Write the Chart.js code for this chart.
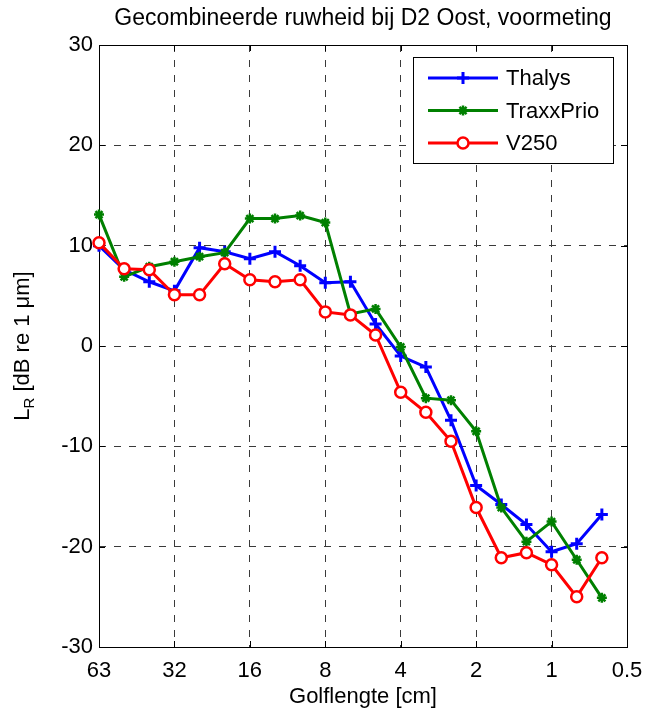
<!DOCTYPE html>
<html>
<head>
<meta charset="utf-8">
<script src="https://cdn.jsdelivr.net/npm/chart.js@4/dist/chart.umd.min.js"></script>
<style>
  html, body { margin: 0; padding: 0; background: #fff; }
</style>
</head>
<body>
<canvas id="roughChart" width="645" height="713"></canvas>
<script>
// third-octave wavelength bands [cm], last one only carries the 0.5 tick
const bands = ['63', '50', '40', '31.5', '25', '20', '16', '12.5', '10', '8', '6.3', '5',
               '4', '3.15', '2.5', '2', '1.6', '1.25', '1', '0.8', '0.63', '0.5'];
const tickLabels = ['63', '32', '16', '8', '4', '2', '1', '0.5'];

// roughness level L_R [dB re 1 um]
const thalys = [10.0, 7.6, 6.4, 5.5, 9.8, 9.4, 8.7, 9.4, 8.0, 6.3, 6.4, 2.2,
                -1.0, -2.1, -7.4, -13.9, -15.8, -17.8, -20.5, -19.7, -16.8];
const traxxPrio = [13.1, 6.9, 7.9, 8.4, 8.9, 9.3, 12.7, 12.7, 13.0, 12.3, 3.2, 3.7,
                   -0.1, -5.2, -5.4, -8.5, -16.1, -19.5, -17.5, -21.3, -25.1];
const v250 = [10.3, 7.7, 7.6, 5.1, 5.1, 8.2, 6.6, 6.4, 6.6, 3.4, 3.1, 1.1,
              -4.6, -6.6, -9.5, -16.1, -21.1, -20.6, -21.8, -25.0, -21.1];

const FONT = "'Liberation Sans', Arial, Helvetica, sans-serif";
const GRID = '#3a3a3a';
Chart.defaults.font.family = FONT;
Chart.defaults.font.size = 22;
Chart.defaults.color = '#000';

// box round the axes plus small inward ticks, matlab style
const frame = {
  id: 'frame',
  beforeDatasetsDraw(chart) {
    const { ctx, chartArea: a, scales } = chart;
    ctx.save();
    ctx.strokeStyle = '#000';
    ctx.lineWidth = 1;
    ctx.beginPath();
    scales.x.ticks.forEach((t, i) => {
      if (i % 3 !== 0) return;
      const x = Math.round(scales.x.getPixelForTick(i)) + 0.5;
      ctx.moveTo(x, a.bottom); ctx.lineTo(x, a.bottom - 6);
      ctx.moveTo(x, a.top); ctx.lineTo(x, a.top + 6);
    });
    scales.y.ticks.forEach((t, i) => {
      const y = Math.round(scales.y.getPixelForTick(i)) + 0.5;
      ctx.moveTo(a.left, y); ctx.lineTo(a.left + 6, y);
      ctx.moveTo(a.right, y); ctx.lineTo(a.right - 6, y);
    });
    ctx.stroke();
    ctx.strokeRect(Math.round(a.left) + 0.5, Math.round(a.top) + 0.5,
                   Math.round(a.right - a.left), Math.round(a.bottom - a.top));
    ctx.restore();
  }
};

// y title with subscript R
const yTitle = {
  id: 'yTitle',
  afterDraw(chart) {
    const { ctx, chartArea: a } = chart;
    const main = '22px ' + FONT, sub = '15px ' + FONT;
    ctx.save();
    ctx.translate(22, (a.top + a.bottom) / 2);
    ctx.rotate(-Math.PI / 2);
    ctx.fillStyle = '#000';
    ctx.textBaseline = 'alphabetic';
    ctx.font = main;
    const wL = ctx.measureText('L').width;
    const rest = ' [dB re 1 \u03BCm]';
    const wRest = ctx.measureText(rest).width;
    ctx.font = sub;
    const wR = ctx.measureText('R').width;
    let x = -(wL + wR + wRest) / 2;
    const base = 7;
    ctx.font = main;
    ctx.fillText('L', x, base);
    x += wL;
    ctx.font = sub;
    ctx.fillText('R', x, base + 5);
    x += wR;
    ctx.font = main;
    ctx.fillText(rest, x, base);
    ctx.restore();
  }
};

// legend box in upper right corner with line + marker samples
const boxLegend = {
  id: 'boxLegend',
  afterDraw(chart) {
    const { ctx, chartArea: a } = chart;
    const left = a.right - 214, top = a.top + 12, w = 200, h = 106;
    ctx.save();
    ctx.fillStyle = '#fff';
    ctx.fillRect(left, top, w, h);
    ctx.strokeStyle = '#000';
    ctx.lineWidth = 1;
    ctx.strokeRect(Math.round(left) + 0.5, Math.round(top) + 0.5, w, h);
    chart.data.datasets.forEach((ds, i) => {
      const y = top + 21 + i * 32.5;
      ctx.strokeStyle = ds.borderColor;
      ctx.lineWidth = ds.borderWidth;
      ctx.beginPath();
      ctx.moveTo(left + 15, y);
      ctx.lineTo(left + 85, y);
      ctx.stroke();
      ctx.fillStyle = ds.pointBackgroundColor;
      ctx.lineWidth = ds.pointBorderWidth;
      Chart.helpers.drawPoint(ctx, { pointStyle: ds.pointStyle, radius: ds.pointRadius,
        borderWidth: ds.pointBorderWidth, rotation: 0 }, left + 50, y);
      ctx.fillStyle = '#000';
      ctx.font = '22px ' + FONT;
      ctx.textBaseline = 'middle';
      ctx.fillText(ds.label, left + 93, y + 1);
    });
    ctx.restore();
  }
};

const ctx = document.getElementById('roughChart').getContext('2d');
const roughChart = new Chart(ctx, {
  type: 'line',
  data: {
    labels: bands,
    datasets: [
      { label: 'Thalys', data: thalys, borderColor: '#0000ff', borderWidth: 3,
        pointStyle: 'cross', pointRadius: 6, pointBorderWidth: 3,
        pointBackgroundColor: '#0000ff', tension: 0, clip: false, order: 2 },
      { label: 'TraxxPrio', data: traxxPrio, borderColor: '#008000', borderWidth: 3,
        pointStyle: 'star', pointRadius: 5, pointBorderWidth: 2.5,
        pointBackgroundColor: '#008000', tension: 0, clip: false, order: 1 },
      { label: 'V250', data: v250, borderColor: '#ff0000', borderWidth: 3,
        pointStyle: 'circle', pointRadius: 5.5, pointBorderWidth: 2.5,
        pointBackgroundColor: '#ffffff', tension: 0, clip: false, order: 0 }
    ]
  },
  options: {
    responsive: false,
    animation: false,
    layout: { padding: { left: 0, right: 18, top: 0, bottom: 0 } },
    plugins: {
      legend: { display: false },
      tooltip: { enabled: false },
      title: {
        display: true,
        fullSize: false,
        text: 'Gecombineerde ruwheid bij D2 Oost, voormeting',
        color: '#000',
        font: { size: 23, weight: 'normal' },
        padding: { top: 5, bottom: 12.4 }
      }
    },
    scales: {
      x: {
        type: 'category',
        offset: false,
        grid: { color: c => (c.index % 3 === 0 ? GRID : 'transparent'), lineWidth: 1, drawTicks: false },
        border: { display: false, dash: [7, 8] },
        ticks: {
          autoSkip: false, maxRotation: 0, minRotation: 0, padding: 11,
          callback: (v, i) => (i % 3 === 0 ? tickLabels[i / 3] : '')
        },
        title: { display: true, text: 'Golflengte [cm]', padding: { top: 0, bottom: 3 } },
        afterFit: s => { s.height = 66; s.paddingLeft = 0; s.paddingRight = 0; }
      },
      y: {
        min: -30, max: 30,
        grid: { color: GRID, lineWidth: 1, drawTicks: false },
        border: { display: false, dash: [7, 8] },
        ticks: { stepSize: 10, padding: 6 },
        afterFit: s => { s.width = 99; s.paddingTop = 0; s.paddingBottom = 0; }
      }
    }
  },
  plugins: [frame, yTitle, boxLegend]
});
</script>
</body>
</html>
